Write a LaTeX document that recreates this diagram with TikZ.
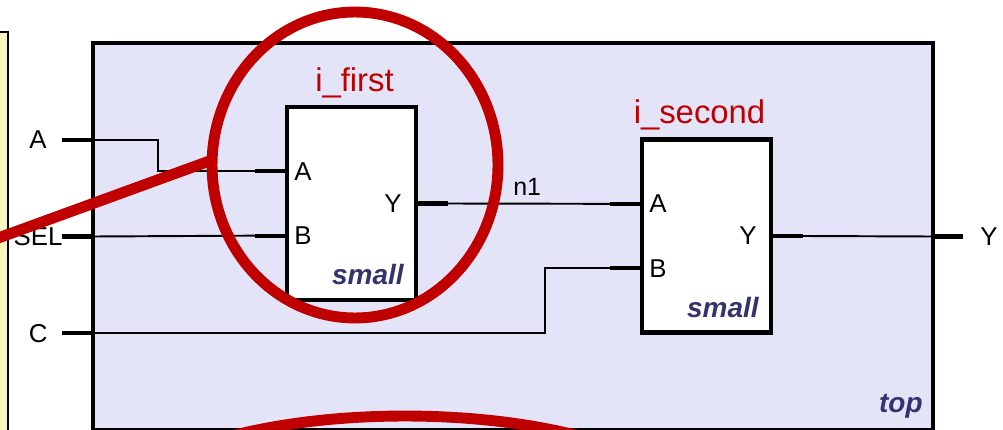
\documentclass[tikz,border=0pt]{standalone}
\usepackage{fontspec}
\setmainfont{Liberation Sans}
\usetikzlibrary{calc,shapes.geometric}
\definecolor{topC}{HTML}{E3E4F8}
\definecolor{noteC}{HTML}{F6F6C0}
\definecolor{instC}{HTML}{C00000}
\definecolor{modC}{HTML}{33336E}
\newcommand{\pxfont}[1]{\fontsize{#1}{#1}\selectfont}
\newcommand{\modname}[1]{{\color{modC}\bfseries\itshape #1}}
\tikzset{
  cell/.style={draw, line width=2.3pt, fill=white, minimum width=2.58cm,
               minimum height=3.86cm, inner sep=0pt, outer sep=0pt},
  module/.style={draw, line width=2.3pt, fill=topC, minimum width=16.8cm,
                 minimum height=7.74cm, inner sep=0pt, outer sep=0pt},
  pin/.style={line width=2.3pt},
  wire/.style={line width=1.1pt},
  pinlbl/.style={font=\pxfont{14.7}, inner sep=0pt},
  netlbl/.style={font=\pxfont{14.2}, inner sep=0pt, anchor=base west},
  instname/.style={font=\pxfont{18.7}, text=instC, inner sep=0pt, anchor=base},
  modlbl/.style={font=\pxfont{15.9}, inner sep=0pt, anchor=base east},
  ring/.style={ellipse, draw=instC, line width=6.2pt, inner sep=0pt, outer sep=0pt},
  callout/.style={draw=instC, line width=6.2pt},
}

\begin{document}
\begin{tikzpicture}[x=0.02cm, y=-0.02cm]
\useasboundingbox (0,0) rectangle (1003,429);
\clip (0,0) rectangle (1003,429);

% note panel on the left
\draw[line width=1.4pt, fill=noteC] (-20,32) rectangle (8,460);

% top module and its ports
\node[module] (top) at (513,236.5) {};
\node[modlbl] at ($(top.south east)+(-10,-17)$) {\modname{top}};
\foreach \p/\f in {A/0.25, SEL/0.5, C/0.75}{
  \coordinate (top-\p) at ($(top.north west)!\f!(top.south west)$);
  \draw[pin] (top-\p) -- ++(-31,0);
  \node[pinlbl] at ($(top-\p)+(-55,0)$) {\p};
}
\coordinate (top-Y) at ($(top.north east)!0.5!(top.south east)$);
\draw[pin] (top-Y) -- ++(30,0);
\node[pinlbl] at ($(top-Y)+(56,0)$) {Y};

% the two instances of small
\node[cell] (first) at (351.5,203.5) {};
\node[cell] (second) at (706.5,236) {};
\node[instname] at ($(first.north)+(3,-16)$) {i\_first};
\node[instname] at ($(second.north)+(-7,-16)$) {i\_second};
\foreach \c in {first,second}{
  \coordinate (\c-A) at ($(\c.north west)!1/3!(\c.south west)$);
  \coordinate (\c-B) at ($(\c.north west)!2/3!(\c.south west)$);
  \coordinate (\c-Y) at ($(\c.north east)!1/2!(\c.south east)$);
  \draw[pin] (\c-A) -- ++(-32,0) coordinate (\c-a);
  \draw[pin] (\c-B) -- ++(-32,0) coordinate (\c-b);
  \draw[pin] (\c-Y) -- ++(32,0) coordinate (\c-y);
  \node[pinlbl, anchor=west] at ($(\c-A)+(7,0)$) {A};
  \node[pinlbl, anchor=west] at ($(\c-B)+(7,0)$) {B};
  \node[pinlbl, anchor=east] at ($(\c-Y)+(-14,0)$) {Y};
  \node[modlbl] at ($(\c.south east)+(-12,-15)$) {\modname{small}};
}

% nets
\draw[wire] (top-A) -- ++(65,0) |- (first-a);
\draw[wire] (top-SEL) -- (first-b);
\draw[wire] (top-C) -| ($(second-b)+(-65,0)$) -- (second-b);
\draw[wire] (first-y) -- (second-a);
\node[netlbl] at ($(first-y)+(65,-8)$) {n1};
\draw[wire] (second-y) -- (top-Y);

% red markings
\node[ring, minimum width=5.72cm, minimum height=6.12cm] (ring1) at (355,165) {};
\node[ring, minimum width=11.6cm, minimum height=4cm] (ring2) at (405,516) {};
\coordinate (tail) at (-10,241);
\draw[callout] (tail) -- (ring1.178);
\end{tikzpicture}
\end{document}
